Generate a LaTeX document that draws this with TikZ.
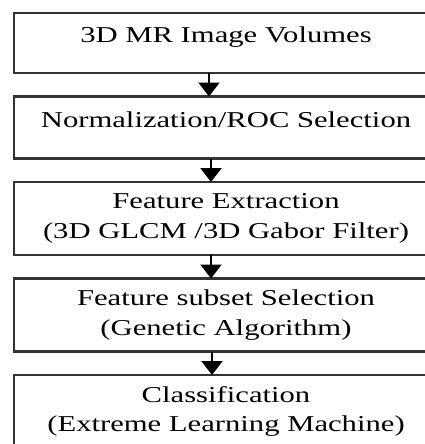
\documentclass[tikz,border=0pt]{standalone}
\usepackage{fontspec}
\setmainfont{Liberation Serif}[FakeStretch=1.35]
\usetikzlibrary{positioning,arrows.meta}

\begin{document}
\begin{tikzpicture}[
    stage/.style={draw=black!80, line width=2.4pt, minimum width=424pt,
      inner xsep=0pt, inner ysep=0pt, outer sep=0pt, align=center,
      font=\fontsize{22.7}{29.5}\selectfont},
    oneline/.style={stage, text height=10pt, text depth=10pt},
    flow/.style={line width=2.2pt, draw=black,
      -{Triangle[width=21pt,length=14pt]}},
    node distance=23.5pt
  ]
        \useasboundingbox (0,0) rectangle (425pt,-444pt);
        \clip (0,0) rectangle (425pt,-444pt);

        \node [oneline, minimum height=60pt, anchor=north] (volumes) at (226pt,-13pt)
          {3D MR Image Volumes};
        \node [oneline, minimum height=62pt, below=of volumes] (normal)
          {Normalization/ROC Selection};
        \node [stage, minimum height=73pt, below=of normal] (extract)
          {Feature Extraction\\(3D GLCM /3D Gabor Filter)};
        \node [stage, minimum height=73pt, below=of extract] (subset)
          {Feature subset Selection\\(Genetic Algorithm)};
        \node [stage, minimum height=73pt, below=of subset] (classify)
          {Classification\\(Extreme Learning Machine)};

        \draw [flow] ([xshift=-17pt]volumes.south) -- ([xshift=-17pt]normal.north);
        \draw [flow] ([xshift=-15pt]normal.south) -- ([xshift=-15pt]extract.north);
        \draw [flow] ([xshift=-15pt]extract.south) -- ([xshift=-15pt]subset.north);
        \draw [flow] ([xshift=-14pt]subset.south) -- ([xshift=-14pt]classify.north);
      \end{tikzpicture}
\end{document}
